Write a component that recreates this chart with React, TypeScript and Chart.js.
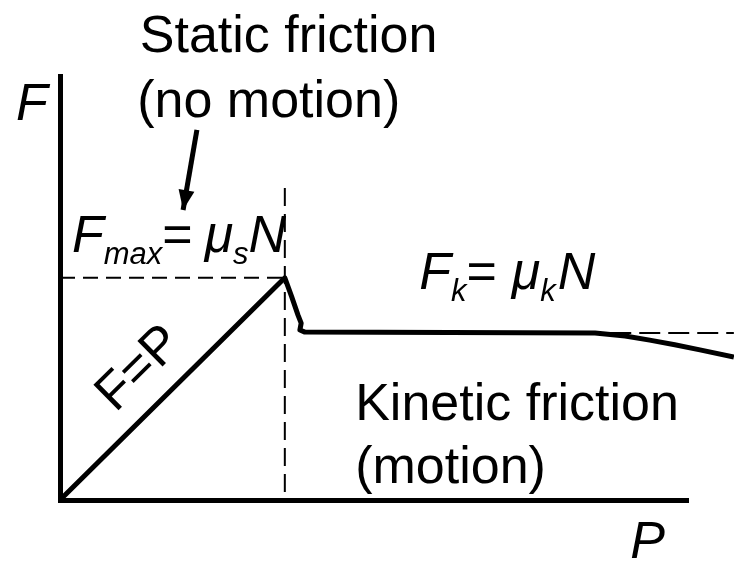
import { useEffect, useRef } from 'react';
import { Chart, registerables } from 'chart.js';

Chart.register(...registerables);

// ---- data (arbitrary units: P horizontal, F vertical) ----
const axisMaxP = 10;
const axisMaxF = 10;

const curveP = [0, 3.58, 3.69, 3.79, 3.84, 3.82, 3.9, 6.21, 8.52, 9.0, 9.39, 9.79, 10.19, 10.73];
const curveF = [0, 5.24, 4.79, 4.36, 4.17, 4.01, 3.96, 3.95, 3.94, 3.87, 3.77, 3.66, 3.54, 3.37];

const fmaxGuideP = [0, 3.58];
const fmaxGuideF = [5.24, 5.24];

const onsetGuideP = [3.58, 3.58];
const onsetGuideF = [7.36, 0];

const fkGuideP = [8.3, 10.73];
const fkGuideF = [3.94, 3.94];

const arrowP = [2.18, 1.96];
const arrowF = [8.73, 6.84];

const axisLabelF = 'F';
const axisLabelP = 'P';
const staticLines = ['Static friction', '(no motion)'];
const kineticLines = ['Kinetic friction', '(motion)'];
const slopeLabel = 'F=P';

type Run = { t: string; i?: boolean; sub?: boolean; gap?: number };
const fmaxRuns: Run[] = [
  { t: 'F', i: true },
  { t: 'max', i: true, sub: true },
  { t: '=', gap: 12 },
  { t: 'μ', i: true },
  { t: 's', i: true, sub: true },
  { t: 'N', i: true },
];
const fkRuns: Run[] = [
  { t: 'F', i: true },
  { t: 'k', i: true, sub: true },
  { t: '=', gap: 15 },
  { t: 'μ', i: true },
  { t: 'k', i: true, sub: true, gap: 2 },
  { t: 'N', i: true },
];

const pts = (xs: number[], ys: number[]) => xs.map((x, k) => ({ x, y: ys[k] }));

const FAMILY = '"Liberation Sans", Arial, sans-serif';
const SIZE = 52;
const SUB = 31;

function drawRuns(ctx: CanvasRenderingContext2D, runs: Run[], x: number, y: number) {
  let cx = x;
  for (const r of runs) {
    const size = r.sub ? SUB : SIZE;
    ctx.font = `${r.i ? 'italic ' : ''}${size}px ${FAMILY}`;
    const dy = r.sub ? 12 : 0;
    ctx.fillText(r.t, cx, y + dy);
    cx += ctx.measureText(r.t).width + (r.gap || 0);
  }
}

const annotPlugin = {
  id: 'frictionAnnotations',
  afterDatasetsDraw(chart: any) {
    const { ctx, scales } = chart;
    const xs = scales.x;
    const ys = scales.y;
    const px = (v: number) => xs.getPixelForValue(v);
    const py = (v: number) => ys.getPixelForValue(v);

    // arrowhead on the pointer
    const meta = chart.getDatasetMeta(4);
    const pA = meta.data[0];
    const pB = meta.data[1];
    const ang = Math.atan2(pB.y - pA.y, pB.x - pA.x);
    const len = 20;
    const half = 8;
    ctx.save();
    ctx.fillStyle = '#000';
    ctx.beginPath();
    ctx.moveTo(pB.x, pB.y);
    ctx.lineTo(
      pB.x - len * Math.cos(ang) + half * Math.sin(ang),
      pB.y - len * Math.sin(ang) - half * Math.cos(ang)
    );
    ctx.lineTo(
      pB.x - len * Math.cos(ang) - half * Math.sin(ang),
      pB.y - len * Math.sin(ang) + half * Math.cos(ang)
    );
    ctx.closePath();
    ctx.fill();

    ctx.textBaseline = 'alphabetic';
    ctx.textAlign = 'left';
    ctx.fillStyle = '#000';

    ctx.font = `${SIZE}px ${FAMILY}`;
    ctx.fillText(staticLines[0], px(1.27), py(10.57));
    ctx.fillText(staticLines[1], px(1.23), py(9.03));
    ctx.fillText(kineticLines[0], px(4.7), py(1.89));
    ctx.fillText(kineticLines[1], px(4.7), py(0.4));

    ctx.font = `italic ${SIZE}px ${FAMILY}`;
    ctx.fillText(axisLabelF, px(-0.7), py(8.96));
    ctx.fillText(axisLabelP, px(9.08), py(-1.37));

    drawRuns(ctx, fmaxRuns, px(0.19), py(5.85));
    drawRuns(ctx, fkRuns, px(5.72), py(4.97));

    // slope label along the rising line
    const a0x = px(curveP[0]);
    const a0y = py(curveF[0]);
    const a1x = px(curveP[1]);
    const a1y = py(curveF[1]);
    const rot = Math.atan2(a1y - a0y, a1x - a0x);
    ctx.save();
    ctx.translate(px(1.27), py(3.09));
    ctx.rotate(rot);
    ctx.textAlign = 'center';
    ctx.textBaseline = 'middle';
    ctx.font = `${SIZE}px ${FAMILY}`;
    ctx.fillText(slopeLabel, 0, 0);
    ctx.restore();

    ctx.restore();
  },
};

export default function App() {
  const ref = useRef<HTMLCanvasElement | null>(null);

  useEffect(() => {
    if (!ref.current) return;
    const dashed = { borderColor: '#000', borderWidth: 2, pointRadius: 0, showLine: true, fill: false, clip: false as any };
    const chart = new Chart(ref.current, {
      type: 'scatter',
      data: {
        datasets: [
          { data: pts(fmaxGuideP, fmaxGuideF), ...dashed, borderDash: [15, 8] },
          { data: pts(onsetGuideP, onsetGuideF), ...dashed, borderDash: [18, 8] },
          { data: pts(fkGuideP, fkGuideF), ...dashed, borderDash: [21, 8] },
          {
            data: pts(curveP, curveF),
            borderColor: '#000',
            borderWidth: 5,
            pointRadius: 0,
            showLine: true,
            tension: 0,
            borderJoinStyle: 'round',
            borderCapStyle: 'butt',
            clip: false as any,
          },
          {
            data: pts(arrowP, arrowF),
            borderColor: '#000',
            borderWidth: 5,
            pointRadius: 0,
            showLine: true,
            clip: false as any,
          },
        ],
      },
      options: {
        animation: false,
        responsive: false,
        devicePixelRatio: 1,
        events: [],
        layout: { padding: { left: 60, right: 46, top: 76, bottom: 62 } },
        plugins: { legend: { display: false }, tooltip: { enabled: false }, title: { display: false } },
        scales: {
          x: {
            type: 'linear',
            min: 0,
            max: axisMaxP,
            grid: { display: false, drawTicks: false },
            ticks: { display: false },
            border: { display: true, color: '#000', width: 5 },
          },
          y: {
            type: 'linear',
            min: 0,
            max: axisMaxF,
            grid: { display: false, drawTicks: false },
            ticks: { display: false },
            border: { display: true, color: '#000', width: 5 },
          },
        },
      },
      plugins: [annotPlugin],
    });
    return () => chart.destroy();
  }, []);

  return (
    <div style={{ position: 'fixed', left: 0, top: 0, width: 734, height: 562, background: '#fff' }}>
      <canvas ref={ref} width={734} height={562} />
    </div>
  );
}
